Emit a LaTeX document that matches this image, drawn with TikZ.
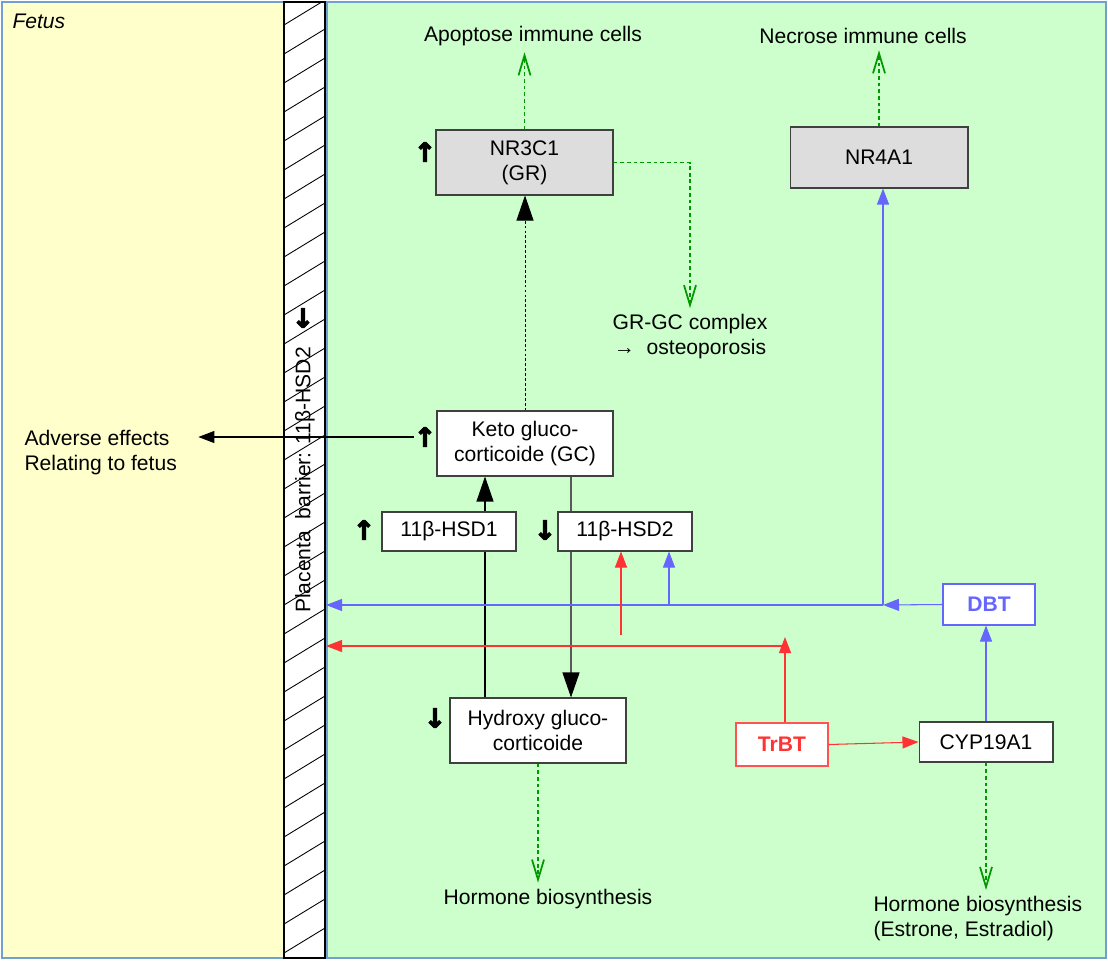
\documentclass[tikz,border=0pt]{standalone}
\usepackage{fontspec}
\setmainfont{Liberation Sans}
\newfontfamily\arrowfont{DejaVu Sans}[FakeBold=4]
\usetikzlibrary{arrows.meta,positioning}
\definecolor{fetusyellow}{HTML}{FFFFCC}
\definecolor{mothergreen}{HTML}{CCFFCC}
\definecolor{regionblue}{HTML}{729FCF}
\definecolor{boxgray}{HTML}{DDDDDD}
\definecolor{dbtblue}{HTML}{6666FF}
\definecolor{trbtred}{HTML}{FF3333}
\definecolor{flowgreen}{HTML}{009900}

\begin{document}
\begin{tikzpicture}[x=0.02cm, y=-0.02cm,
    every node/.style={font=\fontsize{12}{14.2}\selectfont},
    box/.style={rectangle, draw=black!75, fill=white, align=center, line width=0.6pt, inner sep=0pt},
    greybox/.style={box, fill=boxgray},
    labeltext/.style={align=center, inner sep=3.5pt},
    updown/.style={font=\arrowfont\bfseries\fontsize{15}{15}\selectfont, inner sep=0pt},
    flow/.style={flowgreen, dash pattern=on 2.2pt off 1.6pt, line width=0.6pt, -{Straight Barb[length=4mm,width=2.4mm,line width=1pt]}},
    bigtip/.style={line width=0.6pt, -{Triangle[length=5mm,width=3.4mm,color=black]}},
    smalltip/.style={line width=0.6pt, -{Triangle[length=3.2mm,width=2.4mm]}},
    dbtline/.style={smalltip, dbtblue},
    trbtline/.style={smalltip, trbtred}
  ]
    \useasboundingbox (0,0) rectangle (1108,960);

    % regions
    \draw[regionblue, fill=fetusyellow, line width=0.6pt] (2,2) rectangle (284,958);
    \draw[regionblue, fill=mothergreen, line width=0.6pt] (327,2) rectangle (1106,958);
    \fill[white] (284,2) rectangle (325,958);
    \begin{scope}
        \clip (284,2) rectangle (325,958);
        \foreach \y in {0,29,...,1000}
            \draw[line width=0.5pt] (284,\y+25) -- (325,\y);
    \end{scope}
    \draw[line width=0.6pt] (284,2) rectangle (325,958);
    \coordinate (barrier) at (326,0);

    \node[anchor=north west, inner sep=3.5pt] (fetus) at (6,7) {\itshape Fetus};
    \node[rotate=90, inner sep=0pt] (barrierlabel) at (305,480) {Placenta\ \ barrier: 11β-HSD2};
    \node[updown] (dn3) at (303,318) {↓};

    % boxes
    \node[greybox, minimum width=3.54cm, minimum height=1.3cm] (nr3c1) at (524.5,162.5) {NR3C1\\(GR)};
    \node[greybox, minimum width=3.56cm, minimum height=1.22cm] (nr4a1) at (879,157.5) {NR4A1};
    \node[box, minimum width=3.52cm, minimum height=1.3cm] (keto) at (525,443.5) {Keto gluco-\\corticoide (GC)};
    \node[box, minimum width=3.52cm, minimum height=1.3cm] (hydroxy) at (538,730.5) {Hydroxy gluco-\\corticoide};
    \node[box, draw=trbtred!85, minimum width=1.84cm, minimum height=0.86cm, text=trbtred, font=\fontsize{12}{14}\selectfont\bfseries] (trbt) at (782,744.5) {TrBT};
    \node[box, minimum width=2.68cm, minimum height=0.8cm] (cyp) at (986,742) {CYP19A1};
    \node[box, draw=dbtblue, minimum width=1.84cm, minimum height=0.82cm, text=dbtblue, font=\fontsize{12}{14}\selectfont\bfseries] (dbt) at (989,604.5) {DBT};

    % labels
    \node[labeltext] (apoptose) at (533,36) {Apoptose immune cells};
    \node[labeltext] (necrose) at (863,36) {Necrose immune cells};
    \node[labeltext] (grgc) at (690,337) {GR-GC complex\\→\ \ osteoporosis};
    \node[labeltext, anchor=west, align=left] (adverse) at (18,453) {Adverse effects\\Relating to fetus};
    \node[labeltext] (horm1) at (548,899) {Hormone biosynthesis};
    \node[labeltext, anchor=north west, align=left] (horm2) at (867,890) {Hormone biosynthesis\\(Estrone, Estradiol)};

    \node[updown] (up1) at (425,152) {↑};
    \node[updown] (up2) at (425,437) {↑};
    \node[updown] (up3) at (364,530) {↑};
    \node[updown] (dn1) at (545,530) {↓};
    \node[updown] (dn2) at (435,718) {↓};

    % glucocorticoid conversion
    \coordinate (upline) at (485,0);
    \coordinate (downline) at (571,0);
    \draw[bigtip] (upline |- hydroxy.north) -- (upline |- keto.south);
    \draw[bigtip, black!65] (downline |- keto.south) -- (downline |- hydroxy.north);
    \node[box, minimum width=2.68cm, minimum height=0.78cm] (hsd1) at (449,531.5) {11β-HSD1};
    \node[box, minimum width=2.68cm, minimum height=0.78cm] (hsd2) at (625,531.5) {11β-HSD2};
    \draw[bigtip, line width=0.5pt, dash pattern=on 1.6pt off 1.2pt] (keto.north) -- (keto.north |- nr3c1.south);
    \draw[smalltip, shorten >=0.3cm] (up2.west) -- (up2.west -| adverse.east);

    % green outcomes
    \draw[flow] (nr3c1.north) -- (nr3c1.north |- apoptose.south);
    \draw[flow] (nr4a1.north) -- (nr4a1.north |- necrose.south);
    \draw[flow] (nr3c1.east) -| (grgc.north);
    \draw[flow] (hydroxy.south) -- (hydroxy.south |- horm1.north);
    \draw[flow] (cyp.south) -- (cyp.south |- horm2.north);

    % DBT paths
    \coordinate (dbtjoin) at (883,605);
    \coordinate (dbthsd) at (669,605);
    \draw[dbtline] (cyp.north) -- (cyp.north |- dbt.south);
    \draw[dbtline] (dbt.west) -- (dbtjoin);
    \draw[dbtline] (dbtjoin) -- (dbtjoin -| barrier);
    \draw[dbtline] (dbtjoin) -- (dbtjoin |- nr4a1.south);
    \draw[dbtline] (dbthsd) -- (dbthsd |- hsd2.south);

    % TrBT paths
    \coordinate (trbtjoin) at (785,646);
    \coordinate (trbttip) at (785,637);
    \coordinate (trbthsd) at (621,635);
    \draw[trbtline] (trbt.east) -- (cyp.west);
    \draw[trbtline] (trbttip |- trbt.north) -- (trbttip);
    \draw[trbtline] (trbtjoin) -- (trbtjoin -| barrier);
    \draw[trbtline] (trbthsd) -- (trbthsd |- hsd2.south);
\end{tikzpicture}
\end{document}
